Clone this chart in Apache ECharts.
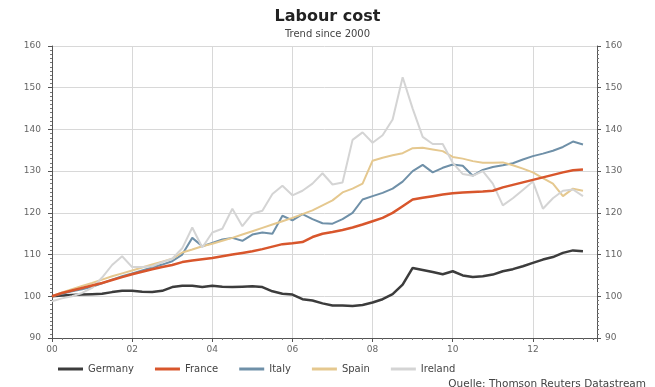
<!DOCTYPE html>
<html>
<head>
<meta charset="utf-8">
<script src="https://cdn.jsdelivr.net/npm/echarts@6/dist/echarts.min.js"></script>
<style>
  html, body { margin: 0; padding: 0; background: #fff; }
  #chart { width: 655px; height: 387px; }
</style>
</head>
<body>
<div id="chart"></div>
<script>
// quarterly index, 2000 = 100
const germany = [100.0,100.2,100.3,100.4,100.5,100.6,101.0,101.3,101.3,101.1,101.0,101.3,102.2,102.5,102.5,102.2,
  102.5,102.3,102.2,102.3,102.4,102.2,101.2,100.6,100.4,99.3,99.0,98.3,97.8,97.8,97.7,97.9,
  98.5,99.3,100.5,102.8,106.8,106.3,105.8,105.3,106.0,105.0,104.6,104.8,105.2,106.0,106.5,107.2,
  108.0,108.8,109.4,110.4,111.0,110.8]
const france = [100.0,100.8,101.4,102.0,102.6,103.2,103.9,104.6,105.3,105.9,106.5,107.0,107.5,108.2,108.6,108.9,
  109.2,109.6,110.0,110.4,110.8,111.3,111.9,112.5,112.7,113.0,114.2,115.0,115.4,115.9,116.5,117.2,
  118.0,118.8,120.0,121.6,123.2,123.6,124.0,124.4,124.7,124.9,125.0,125.1,125.3,126.1,126.7,127.3,
  127.9,128.5,129.1,129.7,130.2,130.4]
const italy = [100.0,100.6,101.2,101.7,102.3,103.1,104.0,104.8,105.5,106.2,106.9,107.6,108.4,110.0,114.0,112.0,
  112.8,113.6,114.0,113.3,114.8,115.3,115.0,119.3,118.2,119.7,118.5,117.5,117.4,118.5,120.0,123.2,
  124.0,124.8,125.8,127.5,130.0,131.5,129.7,130.8,131.6,131.3,128.9,130.3,131.0,131.4,131.9,132.8,
  133.6,134.2,134.9,135.8,137.1,136.4]
const spain = [100.0,100.9,101.7,102.5,103.2,104.0,104.8,105.5,106.2,106.9,107.6,108.3,109.0,110.5,111.2,112.0,
  112.6,113.3,114.0,114.8,115.6,116.4,117.2,118.0,118.8,119.7,120.6,121.8,123.0,124.9,125.8,127.0,
  132.5,133.2,133.8,134.3,135.5,135.6,135.2,134.8,133.4,133.0,132.4,132.0,132.0,132.1,131.4,130.6,
  129.7,128.3,127.0,124.0,125.8,125.3]
const ireland = [98.8,99.5,100.0,100.8,102.0,104.5,107.5,109.6,107.0,107.0,107.2,108.2,109.0,111.5,116.5,111.7,
  115.3,116.2,121.0,116.8,119.8,120.5,124.5,126.5,124.2,125.3,127.0,129.5,126.8,127.3,137.5,139.3,
  136.8,138.6,142.4,152.5,145.0,138.2,136.5,136.5,132.0,129.3,128.9,130.0,127.0,121.8,123.5,125.5,
  127.5,121.0,123.5,125.3,125.6,124.0]

// x position of each quarter (2000Q1 ... 2013Q2)
const quarters = germany.map((v, i) => 2000 + i / 4)
const yTicks = [90, 100, 110, 120, 130, 140, 150, 160]

const names = ['Germany', 'France', 'Italy', 'Spain', 'Ireland']
const colors = ['#3c3c3c', '#d8562c', '#6f90a8', '#e5c88f', '#d4d4d4']
const widths = [2.5, 2.5, 2, 2, 2]
const values = [germany, france, italy, spain, ireland]

const chart = echarts.init(document.getElementById('chart'), null, { renderer: 'canvas' })

function yAxis(pos) {
  return {
    type: 'value',
    position: pos,
    min: yTicks[0],
    max: yTicks[yTicks.length - 1],
    interval: 10,
    axisLine: { show: true, lineStyle: { color: '#555', width: 1 } },
    axisTick: { show: true, length: 4, lineStyle: { color: '#555' } },
    minorTick: { show: true, splitNumber: 10, length: 2, lineStyle: { color: '#777' } },
    splitLine: { show: pos === 'left', lineStyle: { color: '#d8d8d8', width: 1 } },
    axisLabel: { color: '#666', fontSize: 9, margin: pos === 'left' ? 11 : 8 }
  }
}

const option = {
  backgroundColor: '#fff',
  textStyle: { fontFamily: 'DejaVu Sans, Verdana, sans-serif' },
  title: [
    {
      text: 'Labour cost',
      left: 'center',
      top: 4,
      textStyle: { fontSize: 16, fontWeight: 'bold', color: '#222' }
    },
    {
      text: 'Trend since 2000',
      left: 'center',
      top: 24,
      textStyle: { fontSize: 10, fontWeight: 'normal', color: '#444' }
    },
    {
      text: 'Quelle: Thomson Reuters Datastream',
      right: 4,
      top: 374,
      textStyle: { fontSize: 10.5, fontWeight: 'normal', color: '#444' }
    }
  ],
  color: colors,
  legend: {
    data: names,
    left: 53,
    top: 359,
    icon: 'rect',
    itemWidth: 25,
    itemHeight: 3,
    itemGap: 21,
    textStyle: { fontSize: 10, color: '#444' }
  },
  grid: { left: 52, right: 58, top: 46, bottom: 49 },
  xAxis: {
    type: 'value',
    min: 2000,
    max: 2013.6,
    interval: 2,
    axisLine: { show: true, onZero: false, lineStyle: { color: '#555' } },
    axisTick: { show: true, length: 4, lineStyle: { color: '#555' } },
    minorTick: { show: true, splitNumber: 8, length: 2, lineStyle: { color: '#777' } },
    splitLine: { show: true, lineStyle: { color: '#d8d8d8', width: 1 } },
    axisLabel: {
      color: '#666',
      fontSize: 9,
      margin: 7,
      showMaxLabel: false,
      formatter: v => String(v).slice(2)
    }
  },
  yAxis: [yAxis('left'), yAxis('right')],
  series: names.map((n, k) => ({
    name: n,
    type: 'line',
    showSymbol: false,
    symbol: 'none',
    z: k === 1 ? 10 : 2 + k,
    data: quarters.map((q, i) => [q, values[k][i]]),
    lineStyle: { color: colors[k], width: widths[k] },
    itemStyle: { color: colors[k] }
  }))
}

chart.setOption(option)
</script>
</body>
</html>
